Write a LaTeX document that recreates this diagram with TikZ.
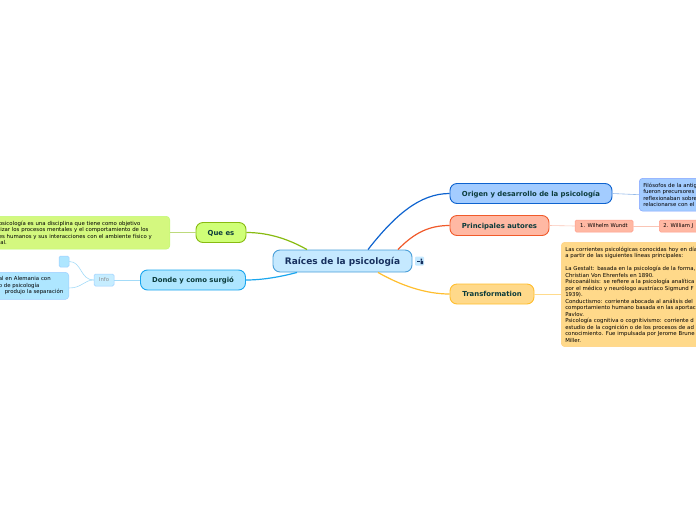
\documentclass[tikz,border=0pt]{standalone}
\usepackage{fontspec}
\setmainfont{DejaVu Sans}
\usetikzlibrary{arrows.meta,positioning}
\definecolor{txtdark}{HTML}{0B3B3B}
\definecolor{rootfill}{HTML}{C5E9FF}
\definecolor{rootline}{HTML}{4A9FD8}
\definecolor{rootink}{HTML}{17305E}
\definecolor{bluefill}{HTML}{A3CCFF}
\definecolor{blueline}{HTML}{0E63CF}
\definecolor{redfill}{HTML}{FFB8A3}
\definecolor{redline}{HTML}{F05A2B}
\definecolor{goldfill}{HTML}{FFD98A}
\definecolor{goldline}{HTML}{FFBE2E}
\definecolor{limefill}{HTML}{CFFF77}
\definecolor{limeline}{HTML}{88BB11}
\definecolor{limetext}{HTML}{D4F87F}
\definecolor{skyfill}{HTML}{AEE6FF}
\definecolor{skyline}{HTML}{1AA6EE}
\begin{document}
\begin{tikzpicture}[
    x=1pt, y=-1pt,
    mainbox/.style={rectangle, rounded corners=7pt, line width=0.9pt, minimum height=20pt, inner sep=0pt, align=center, text=txtdark, text height=5pt, text depth=0pt, font=\fontsize{6.9}{8}\selectfont\bfseries},
    textbox/.style={rectangle, rounded corners=3.5pt, line width=0.5pt, inner xsep=4pt, inner ysep=4.5pt, align=left, font=\fontsize{5.4}{6.5}\selectfont, text=black},
    smallbox/.style={rectangle, rounded corners=1.5pt, line width=0.5pt, inner sep=0pt, minimum height=12pt, align=center, font=\fontsize{5.3}{6}\selectfont},
    link/.style={line width=1.2pt},
    sublink/.style={line width=0.6pt},
  ]
  \useasboundingbox (0,0) rectangle (696,520);
  \clip (0,0) rectangle (696,520);

  % Main topics
  \node[mainbox, fill=rootfill, draw=rootline, minimum width=139pt, minimum height=22pt, text height=7.5pt, font=\fontsize{9}{10}\selectfont\bfseries, text=rootink] (root) at (342.5,261) {Raíces de la psicología};
  \node[mainbox, fill=bluefill, draw=blueline, minimum width=162pt] (origen) at (531,193.5) {Origen y desarrollo de la psicología};
  \node[mainbox, fill=redfill, draw=redline, minimum width=99pt] (autores) at (499.5,225.5) {Principales autores};
  \node[mainbox, fill=goldfill, draw=goldline, minimum width=84pt] (trans) at (492,294) {Transformation};
  \node[mainbox, fill=limefill, draw=limeline, minimum width=50pt] (que) at (221,232.5) {Que es};
  \node[mainbox, fill=skyfill, draw=skyline, minimum width=105pt] (donde) at (193,280) {Donde y como surgió};

  % Icon beside the root
  \node[rectangle, fill=rootfill, minimum size=9pt, inner sep=0pt, rounded corners=1pt] (icon) at (419.5,261) {};
  \draw[rootink, line width=0.6pt] (417,261.5) -- (420,261.5);
  \fill[rootink] (420.5,258.5) rectangle (422,260.5) (420.5,261) rectangle (423,264);

  % Right side texts
  \node[textbox, fill=bluefill, draw=bluefill!80!blue, anchor=north west, text width=60pt] (origentxt) at (639,178) {Filósofos de la antig\\fueron precursores\\reflexionaban sobre\\relacionarse con el};
  \node[smallbox, fill=redfill, draw=redfill!85!red, minimum width=58pt] (wundt) at (604,226) {1. Wilhelm Wundt};
  \node[smallbox, fill=redfill, draw=redfill!85!red, minimum width=58pt, anchor=west] (james) at (659,226) {2. William J\hspace{20pt}};
  \node[textbox, fill=goldfill, draw=goldfill!90!orange, anchor=north west, text width=140pt] (transtxt) at (561,242) {Las corrientes psicológicas conocidas hoy en día\\a partir de las siguientes líneas principales:\\[6.5pt]La Gestalt: basada en la psicología de la forma,\\Christian Von Ehrenfels en 1890.\\Psicoanálisis: se refiere a la psicología analítica\\por el médico y neurólogo austríaco Sigmund F\\1939).\\Conductismo: corriente abocada al análisis del\\comportamiento humano basada en las aportac\\Pavlov.\\Psicología cognitiva o cognitivismo: corriente d\\estudio de la cognición o de los procesos de ad\\conocimiento. Fue impulsada por Jerome Brune\\Miller.};

  % Left side texts
  \node[textbox, fill=limetext, draw=limetext!90!green, anchor=north east, text width=167pt] (quetxt) at (170,216) {psicología es una disciplina que tiene como objetivo\\lizar los procesos mentales y el comportamiento de los\\es humanos y sus interacciones con el ambiente físico y\\ial.};
  \node[smallbox, fill=skyfill!70, draw=skyfill!90!blue, minimum width=20pt, text=black!45] (info) at (104,280) {Info};
  \node[smallbox, fill=skyfill, draw=skyfill!90!blue, minimum width=10pt, minimum height=11pt] (blank) at (64,261.5) {};
  \node[textbox, fill=skyfill, draw=skyfill!90!blue, anchor=north east, text width=66pt] (dondetxt) at (69,272) {al en Alemania con\\o de psicología\\\hspace{6pt}produjo la separación};

  % Branches from the root
  \draw[link, blueline] ([xshift=25.5pt]root.north) .. controls (395,215) and (420,193.5) .. (origen.west);
  \draw[link, redline] ([xshift=55.5pt]root.north) .. controls (415,232) and (430,225.5) .. (autores.west);
  \draw[link, goldline] ([xshift=35.5pt]root.south) .. controls (400,285) and (425,294) .. (trans.west);
  \draw[link, limeline] ([xshift=-35.5pt]root.north) .. controls (290,240) and (270,232.5) .. (que.east);
  \draw[link, skyline] ([xshift=-45.5pt]root.south) .. controls (280,277) and (262,280) .. (donde.east);

  % Branches to the texts
  \draw[sublink, blueline!45] (origen.east) -- (origentxt.west);
  \draw[sublink, redline!35] (autores.east) -- (wundt.west);
  \draw[sublink, redline!35] (wundt.east) -- (james.west);
  \draw[sublink, goldline!55] (trans.east) -- (transtxt.west |- trans.east);
  \draw[sublink, limeline!55] (que.west) -- (quetxt.east |- que.west);
  \draw[sublink, skyline!40] (donde.west) -- (info.east);
  \draw[sublink, skyline!40] (info.west) .. controls (80,280) and (82,261.5) .. (blank.east);
  \draw[sublink, skyline!40] (info.west) .. controls (84,280) and (82,288) .. (dondetxt.east |- 0,288);
\end{tikzpicture}
\end{document}
